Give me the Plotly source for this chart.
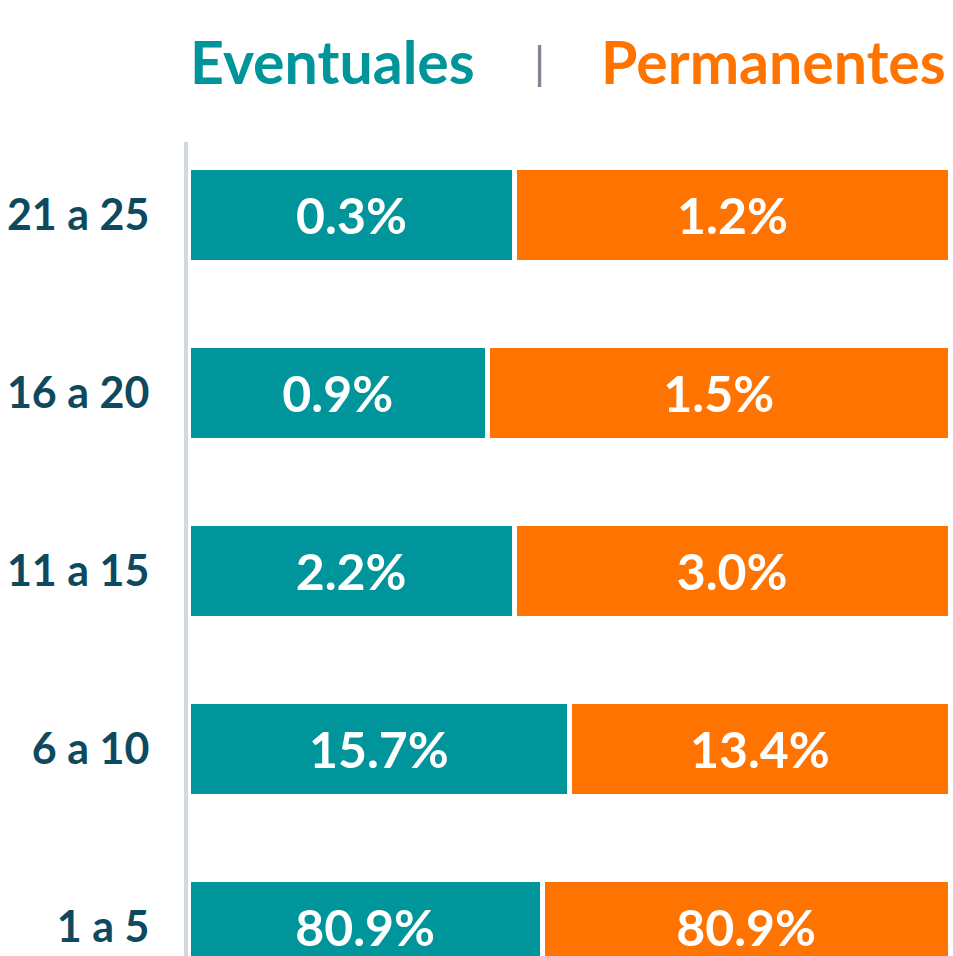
import plotly.graph_objects as go

# Data (bottom to top)
categories = ["1 a 5", "6 a 10", "11 a 15", "16 a 20", "21 a 25"]
eventuales_pct = [80.9, 15.7, 2.2, 0.9, 0.3]
permanentes_pct = [80.9, 13.4, 3.0, 1.5, 1.2]
# relative segment lengths of each bar as drawn
eventuales_share = [46.5, 50.1, 42.8, 39.3, 42.9]
permanentes_share = [53.5, 49.9, 57.2, 60.7, 57.1]

TEAL = "#00959a"
ORANGE = "#ff7300"
NAVY = "#0e4a5f"
FONT = "Lato"

fig = go.Figure()
fig.add_trace(go.Bar(
    y=categories, x=eventuales_share, orientation="h", name="Eventuales",
    marker=dict(color=TEAL, line=dict(color="white", width=5)),
    text=[f"{v:.1f}%" for v in eventuales_pct],
    textposition="inside", insidetextanchor="middle",
    textfont=dict(family=FONT, size=50, color="white", weight="bold"),
    hoverinfo="skip",
))
fig.add_trace(go.Bar(
    y=categories, x=permanentes_share, orientation="h", name="Permanentes",
    marker=dict(color=ORANGE, line=dict(color="white", width=5)),
    text=[f"{v:.1f}%" for v in permanentes_pct],
    textposition="inside", insidetextanchor="middle",
    textfont=dict(family=FONT, size=50, color="white", weight="bold"),
    hoverinfo="skip",
))

fig.update_layout(
    width=953, height=956,
    barmode="stack", bargap=0.466,
    showlegend=False,
    plot_bgcolor="white", paper_bgcolor="white",
    margin=dict(l=188, r=3, t=142, b=0, pad=0),
    uniformtext=dict(mode=False),
    xaxis=dict(range=[0, 100], visible=False, fixedrange=True),
    yaxis=dict(
        type="category", categoryorder="array", categoryarray=categories,
        range=[-0.163, 4.410], showgrid=False, zeroline=False,
        showline=True, linecolor="#d2d8e2", linewidth=4,
        ticks="", ticklabelstandoff=26, automargin=False,
        tickfont=dict(family=FONT, size=43, color=NAVY, weight="bold"),
    ),
    annotations=[
        dict(text="Eventuales", xref="paper", yref="paper", x=0.0, y=1.0985,
             xanchor="left", yanchor="middle", showarrow=False,
             font=dict(family=FONT, size=59, color=TEAL, weight="bold")),
        dict(text="|", xref="paper", yref="paper", x=0.461, y=1.0985,
             xanchor="center", yanchor="middle", showarrow=False,
             font=dict(family=FONT, size=44, color="#7b8189")),
        dict(text="Permanentes", xref="paper", yref="paper", x=0.997, y=1.0985,
             xanchor="right", yanchor="middle", showarrow=False,
             font=dict(family=FONT, size=59, color=ORANGE, weight="bold")),
    ],
)

fig.write_html(
    "out.html",
    config={"displayModeBar": False, "staticPlot": True},
    post_script="document.body.style.margin='0';document.body.style.overflow='hidden';",
)
